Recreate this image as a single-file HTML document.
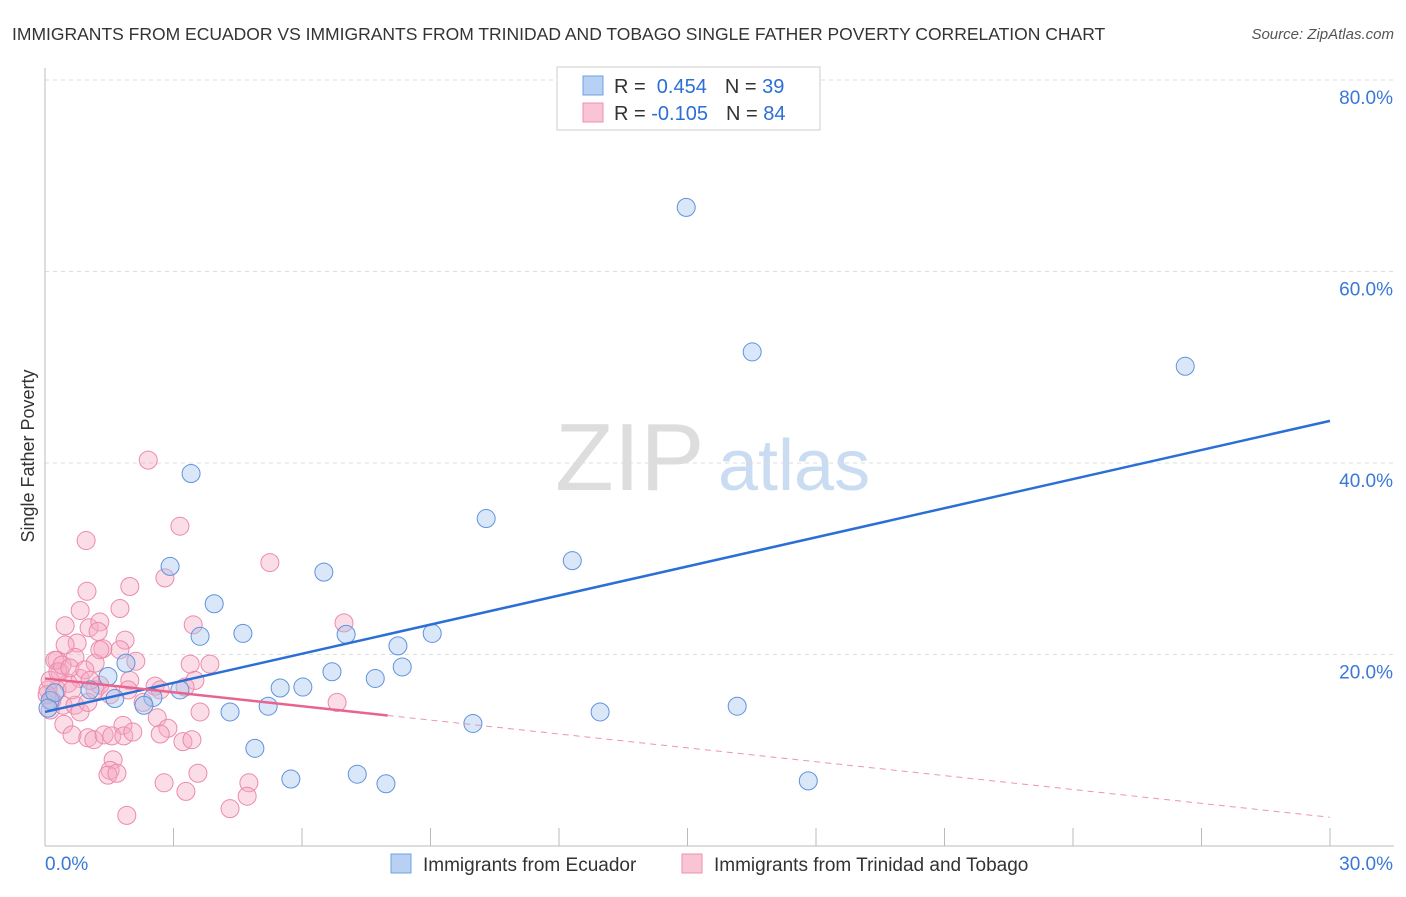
<!DOCTYPE html>
<html><head><meta charset="utf-8"><style>
body{margin:0;background:#fff;font-family:"Liberation Sans",sans-serif}
svg text{font-family:"Liberation Sans",sans-serif}
</style></head><body>
<svg id="c" width="1406" height="892" xmlns="http://www.w3.org/2000/svg">
<text x="12" y="40" font-size="17.5" fill="#333">IMMIGRANTS FROM ECUADOR VS IMMIGRANTS FROM TRINIDAD AND TOBAGO SINGLE FATHER POVERTY CORRELATION CHART</text>
<text x="1394" y="39" font-size="15" fill="#555" font-style="italic" text-anchor="end">Source: ZipAtlas.com</text>
<text x="555" y="490" font-size="96" fill="#ddd" font-family="Liberation Serif">ZIP</text>
<text x="718" y="490" font-size="72" fill="#c9dcf2">atlas</text>
<text transform="translate(34,456) rotate(-90)" font-size="18" fill="#333" text-anchor="middle">Single Father Poverty</text>
<g id="grid"></g><g id="ticks"></g><g id="pts"></g><g id="lines"></g>
<g>
<rect x="557" y="67" width="263" height="63" fill="#fff" stroke="#ccc"/>
<rect x="583" y="76" width="20" height="19" fill="#b7d0f3" stroke="#6f9fe0"/>
<rect x="583" y="103" width="20" height="19" fill="#f9c5d5" stroke="#ee8fae"/>
<text x="614" y="93" font-size="20" fill="#333">R = <tspan fill="#2b6fd6">&#160;0.454</tspan><tspan dx="18">N = </tspan><tspan fill="#2b6fd6">39</tspan></text>
<text x="614" y="120" font-size="20" fill="#333">R = <tspan fill="#2b6fd6">-0.105</tspan><tspan dx="18">N = </tspan><tspan fill="#2b6fd6">84</tspan></text>
</g>
<g>
<rect x="391" y="854" width="20" height="19" fill="#b7d0f3" stroke="#6f9fe0"/>
<text x="423" y="871" font-size="19" fill="#333">Immigrants from Ecuador</text>
<rect x="682" y="854" width="20" height="19" fill="#f9c5d5" stroke="#ee8fae"/>
<text x="714" y="871" font-size="19" fill="#333">Immigrants from Trinidad and Tobago</text>
</g>
</svg>
<script>
const blueX=[14.97,16.51,26.62,3.41,10.30,12.31,2.92,6.51,3.95,3.62,4.62,7.03,9.04,8.24,1.89,8.34,6.70,7.71,1.47,3.15,5.49,6.02,2.52,1.63,2.31,5.21,4.32,12.96,16.16,9.99,4.90,5.74,7.29,7.96,17.82,0.12,0.23,0.07,1.05];
const blueY=[66.7,51.6,50.1,38.9,34.2,29.8,29.2,28.6,25.3,21.9,22.2,22.1,22.2,20.9,19.1,18.7,18.2,17.5,17.7,16.3,16.5,16.6,15.5,15.4,14.7,14.6,14.0,14.0,14.6,12.8,10.2,7.0,7.5,6.5,6.8,15.2,16.0,14.4,16.3];
const pinkX=[2.41,3.15,0.96,5.25,2.80,0.98,1.98,0.82,1.75,0.47,1.03,1.28,1.24,1.87,0.75,3.46,1.75,1.35,0.28,0.70,0.35,1.17,2.12,3.39,3.85,6.98,0.54,0.82,1.28,1.98,3.50,0.28,1.94,2.57,6.82,0.42,0.70,0.82,0.12,3.62,2.62,1.82,2.87,0.44,0.63,1.00,1.14,1.38,1.56,1.84,2.05,2.69,3.22,3.43,0.07,0.12,0.23,1.59,1.52,1.47,1.68,2.78,3.57,4.76,3.29,4.72,4.32,1.91,2.69,0.30,0.40,0.58,0.93,0.16,0.05,1.00,1.17,2.29,3.27,0.63,1.05,1.52,0.47,1.28];
const pinkY=[40.3,33.4,31.9,29.6,28.0,26.6,27.1,24.6,24.8,23.0,22.8,23.4,22.4,21.5,21.2,23.1,20.5,20.6,19.4,19.7,18.2,19.1,19.3,19.0,19.0,23.3,17.0,17.5,16.8,17.3,17.3,16.3,16.3,16.7,15.0,14.7,14.7,14.0,14.2,14.0,13.4,12.6,12.3,12.7,11.6,11.3,11.1,11.6,11.5,11.5,11.9,11.7,10.9,11.1,16.3,17.3,19.4,9.0,7.9,7.4,7.6,6.6,7.6,6.6,5.7,5.2,3.9,3.2,16.3,18.2,18.9,18.6,18.4,15.2,15.8,15.0,16.3,15.0,16.6,16.3,17.3,15.8,21.0,20.5];
const yTicks=[20,40,60,80];
const xTicks=[0,3,6,9,12,15,18,21,24,27,30];
const blueTrend=[14.0,44.4];
const pinkTrend=[17.5,3.0];
const pinkSolidEnd=8.0;
const NS="http://www.w3.org/2000/svg";
const sx=v=>45+v*(1285/30), sy=v=>846-v*(191.5/20);
function mk(t,a,p){const e=document.createElementNS(NS,t);for(const k in a)e.setAttribute(k,a[k]);p.appendChild(e);return e;}
const grid=document.getElementById('grid'),ticks=document.getElementById('ticks'),pts=document.getElementById('pts'),lines=document.getElementById('lines');
yTicks.forEach(v=>{const l=mk('line',{x1:45,x2:1394,y1:sy(v),y2:sy(v),stroke:'#ddd','stroke-dasharray':'4,4'},grid);


const t=mk('text',{x:1393,y:sy(v)+24,'font-size':19,fill:'#3a78d8','text-anchor':'end'},ticks);t.textContent=v.toFixed(1)+'%';

});
mk('line',{x1:45,x2:45,y1:68,y2:846,stroke:'#bbb'},grid);
mk('line',{x1:45,x2:1394,y1:846,y2:846,stroke:'#bbb'},grid);
xTicks.forEach(v=>{const l=mk('line',{x1:sx(v),x2:sx(v),y1:828,y2:846,stroke:'#bbb'},grid);

});
[[0,45,'start'],[30,1393,'end']].forEach(([v,x,a])=>{const t=mk('text',{x:x,y:870,'font-size':19,fill:'#3a78d8','text-anchor':a},ticks);t.textContent=v.toFixed(1)+'%';

});
pinkX.forEach((x,i)=>{const c=mk('circle',{cx:sx(x),cy:sy(pinkY[i]),r:9,fill:'rgba(246,170,195,0.4)',stroke:'#ec8aab','stroke-width':1},pts);

});
blueX.forEach((x,i)=>{const c=mk('circle',{cx:sx(x),cy:sy(blueY[i]),r:9,fill:'rgba(160,195,240,0.4)',stroke:'#5f93dc','stroke-width':1},pts);

});
let b=mk('line',{x1:sx(0),y1:sy(blueTrend[0]),x2:sx(30),y2:sy(blueTrend[1]),stroke:'#2b6fd6','stroke-width':2.5},lines);


const pyAt=x=>pinkTrend[0]+(pinkTrend[1]-pinkTrend[0])*x/30;
let p=mk('line',{x1:sx(0),y1:sy(pinkTrend[0]),x2:sx(pinkSolidEnd),y2:sy(pyAt(pinkSolidEnd)),stroke:'#e8648e','stroke-width':2.5},lines);


let pd=mk('line',{x1:sx(pinkSolidEnd),y1:sy(pyAt(pinkSolidEnd)),x2:sx(30),y2:sy(pinkTrend[1]),stroke:'#ee93b0','stroke-width':1,'stroke-dasharray':'6,5'},lines);


</script>
</body></html>
